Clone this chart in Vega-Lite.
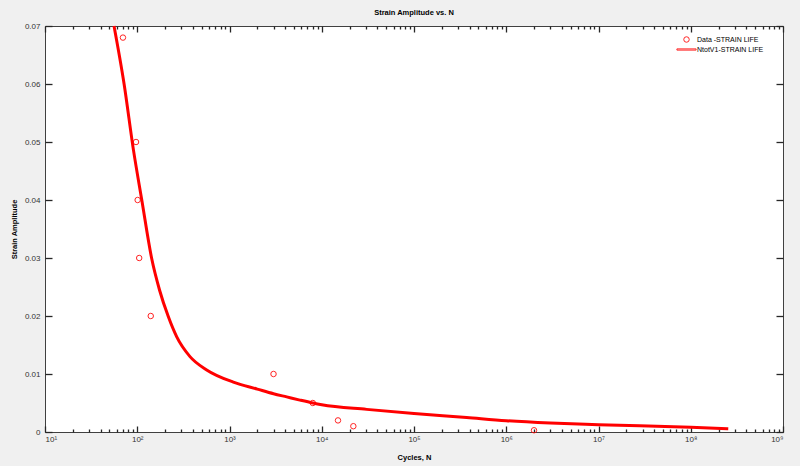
{
  "$schema": "https://vega.github.io/schema/vega-lite/v6.json",
  "width": 738,
  "height": 406,
  "autosize": {"type": "none"},
  "padding": {"left": 45, "top": 26, "right": 17, "bottom": 34},
  "background": "#f0f0f0",
  "title": {
    "text": "Strain Amplitude vs. N",
    "fontSize": 7.5,
    "fontWeight": "bold",
    "font": "Liberation Sans",
    "color": "#000000",
    "offset": 4
  },
  "datasets": {
    "tests": [
      {"N": 70, "strain": 0.068, "series": "Data -STRAIN LIFE"},
      {"N": 97, "strain": 0.05, "series": "Data -STRAIN LIFE"},
      {"N": 101, "strain": 0.04, "series": "Data -STRAIN LIFE"},
      {"N": 105, "strain": 0.03, "series": "Data -STRAIN LIFE"},
      {"N": 140, "strain": 0.02, "series": "Data -STRAIN LIFE"},
      {"N": 3000, "strain": 0.01, "series": "Data -STRAIN LIFE"},
      {"N": 8000, "strain": 0.005, "series": "Data -STRAIN LIFE"},
      {"N": 15000, "strain": 0.002, "series": "Data -STRAIN LIFE"},
      {"N": 22000, "strain": 0.001, "series": "Data -STRAIN LIFE"},
      {"N": 2000000, "strain": 0.0003, "series": "Data -STRAIN LIFE"}
    ],
    "fit": [
      {"N": 56, "strain": 0.07},
      {"N": 72, "strain": 0.06},
      {"N": 91, "strain": 0.0486},
      {"N": 112, "strain": 0.04},
      {"N": 143, "strain": 0.03},
      {"N": 175, "strain": 0.0244},
      {"N": 217, "strain": 0.0199},
      {"N": 268, "strain": 0.0164},
      {"N": 373, "strain": 0.013},
      {"N": 566, "strain": 0.0107},
      {"N": 1100, "strain": 0.0086},
      {"N": 2000, "strain": 0.0074},
      {"N": 3000, "strain": 0.0066},
      {"N": 4170, "strain": 0.00605},
      {"N": 5800, "strain": 0.0055},
      {"N": 8000, "strain": 0.005},
      {"N": 10000, "strain": 0.0047},
      {"N": 30700, "strain": 0.0039},
      {"N": 100000, "strain": 0.0032},
      {"N": 372000, "strain": 0.0025},
      {"N": 1000000, "strain": 0.00195},
      {"N": 3000000, "strain": 0.00155},
      {"N": 10000000, "strain": 0.00126},
      {"N": 100000000, "strain": 0.00081},
      {"N": 255000000, "strain": 0.00055}
    ]
  },
  "config": {
    "font": "Liberation Sans",
    "view": {"fill": "white", "stroke": "#404040", "strokeWidth": 1},
    "axis": {
      "grid": false,
      "domain": false,
      "tickColor": "#262626",
      "tickWidth": 1.3,
      "labelColor": "#333333",
      "labelFontSize": 8,
      "titleFontSize": 7.5,
      "titleFontWeight": "bold",
      "titleColor": "#000000"
    }
  },
  "layer": [
    {
      "data": {"name": "tests"},
      "mark": {"type": "point", "filled": false, "strokeWidth": 1, "size": 30, "opacity": 0.85, "color": "#ff0000"},
      "encoding": {
        "x": {
          "field": "N",
          "type": "quantitative",
          "scale": {"type": "log", "domain": [10, 1000000000], "nice": false},
          "axis": {
            "orient": "bottom",
            "title": "Cycles, N",
            "values": [10, 100, 1000, 10000, 100000, 1000000, 10000000, 100000000, 1000000000],
            "labelExpr": "'10' + ['⁰','¹','²','³','⁴','⁵','⁶','⁷','⁸','⁹'][round(log(datum.value)/LN10)]",
            "tickSize": -6,
            "labelPadding": 9,
            "titlePadding": 10
          }
        },
        "y": {
          "field": "strain",
          "type": "quantitative",
          "scale": {"domain": [0, 0.07], "nice": false},
          "axis": {
            "orient": "left",
            "title": "Strain Amplitude",
            "values": [0, 0.01, 0.02, 0.03, 0.04, 0.05, 0.06, 0.07],
            "format": "~g",
            "tickSize": -7,
            "labelPadding": 12,
            "titlePadding": 6
          }
        },
        "shape": {
          "field": "series",
          "type": "nominal",
          "scale": {"domain": ["Data -STRAIN LIFE", "NtotV1-STRAIN LIFE"], "range": ["circle", "M-3.5,-0.22H3.5V0.22H-3.5Z"]},
          "legend": {
            "title": null,
            "orient": "none",
            "legendX": 638,
            "legendY": 10,
            "padding": 0,
            "labelFontSize": 7,
            "labelColor": "#000000",
            "labelOffset": 7,
            "rowPadding": 0,
            "symbolSize": 30,
            "symbolStrokeWidth": 1,
            "symbolStrokeColor": "#ff0000",
            "symbolFillColor": "transparent"
          }
        }
      }
    },
    {
      "data": {"name": "fit"},
      "mark": {"type": "line", "color": "#ff0000", "strokeWidth": 3, "interpolate": "monotone"},
      "encoding": {
        "x": {
          "field": "N",
          "type": "quantitative",
          "axis": {
            "orient": "top",
            "title": null,
            "labels": false,
            "values": [10, 100, 1000, 10000, 100000, 1000000, 10000000, 100000000, 1000000000],
            "tickSize": -6
          }
        },
        "y": {
          "field": "strain",
          "type": "quantitative",
          "axis": {
            "orient": "right",
            "title": null,
            "labels": false,
            "values": [0, 0.01, 0.02, 0.03, 0.04, 0.05, 0.06, 0.07],
            "tickSize": -7
          }
        }
      }
    },
    {
      "data": {"name": "tests"},
      "mark": {"type": "point", "opacity": 0},
      "encoding": {
        "x": {
          "field": "N",
          "type": "quantitative",
          "axis": {
            "orient": "bottom",
            "title": null,
            "labels": false,
            "tickSize": -3,
            "values": [20, 30, 40, 50, 60, 70, 80, 90, 200, 300, 400, 500, 600, 700, 800, 900, 2000, 3000, 4000, 5000, 6000, 7000, 8000, 9000, 20000, 30000, 40000, 50000, 60000, 70000, 80000, 90000, 200000, 300000, 400000, 500000, 600000, 700000, 800000, 900000, 2000000, 3000000, 4000000, 5000000, 6000000, 7000000, 8000000, 9000000, 20000000, 30000000, 40000000, 50000000, 60000000, 70000000, 80000000, 90000000, 200000000, 300000000, 400000000, 500000000, 600000000, 700000000, 800000000, 900000000]
          }
        },
        "y": {"field": "strain", "type": "quantitative", "axis": null}
      }
    },
    {
      "data": {"name": "tests"},
      "mark": {"type": "point", "opacity": 0},
      "encoding": {
        "x": {
          "field": "N",
          "type": "quantitative",
          "axis": {
            "orient": "top",
            "title": null,
            "labels": false,
            "tickSize": -3,
            "values": [20, 30, 40, 50, 60, 70, 80, 90, 200, 300, 400, 500, 600, 700, 800, 900, 2000, 3000, 4000, 5000, 6000, 7000, 8000, 9000, 20000, 30000, 40000, 50000, 60000, 70000, 80000, 90000, 200000, 300000, 400000, 500000, 600000, 700000, 800000, 900000, 2000000, 3000000, 4000000, 5000000, 6000000, 7000000, 8000000, 9000000, 20000000, 30000000, 40000000, 50000000, 60000000, 70000000, 80000000, 90000000, 200000000, 300000000, 400000000, 500000000, 600000000, 700000000, 800000000, 900000000]
          }
        },
        "y": {"field": "strain", "type": "quantitative", "axis": null}
      }
    }
  ],
  "resolve": {"axis": {"x": "independent", "y": "independent"}}
}
